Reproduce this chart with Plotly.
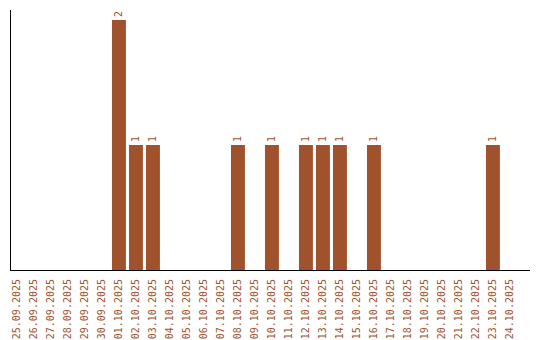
import plotly.graph_objects as go

dates = ["25.09.2025","26.09.2025","27.09.2025","28.09.2025","29.09.2025","30.09.2025",
         "01.10.2025","02.10.2025","03.10.2025","04.10.2025","05.10.2025","06.10.2025",
         "07.10.2025","08.10.2025","09.10.2025","10.10.2025","11.10.2025","12.10.2025",
         "13.10.2025","14.10.2025","15.10.2025","16.10.2025","17.10.2025","18.10.2025",
         "19.10.2025","20.10.2025","21.10.2025","22.10.2025","23.10.2025","24.10.2025"]
counts = [0,0,0,0,0,0,
          2,1,1,0,0,0,
          0,1,0,1,0,1,
          1,1,0,1,0,0,
          0,0,0,0,1,0]

color = "#A0522D"
labels = [str(v) if v > 0 else "" for v in counts]

fig = go.Figure(go.Bar(
    x=dates, y=counts, marker=dict(color=color, line=dict(width=0)),
    text=labels, textposition="outside", textangle=-90,
    textfont=dict(family="DejaVu Sans Mono", size=10, color=color),
    cliponaxis=False,
))
fig.update_layout(
    width=540, height=340,
    margin=dict(l=11, r=10, t=10, b=70, autoexpand=False),
    paper_bgcolor="white", plot_bgcolor="white",
    bargap=0.18, showlegend=False,
    font=dict(family="DejaVu Sans Mono", size=10, color=color),
    uniformtext=dict(minsize=10, mode="show"),
)
fig.update_xaxes(
    type="category", range=[-0.35, 30.18], automargin=False,
    showline=True, linecolor="black", linewidth=1,
    showgrid=False, ticks="", tickangle=-90,
    tickfont=dict(family="DejaVu Sans Mono", size=10, color=color),
    ticklabelstandoff=4,
)
fig.update_yaxes(
    range=[0, 2.08], showline=True, linecolor="black", linewidth=1, automargin=False,
    showgrid=False, zeroline=False, showticklabels=False, ticks="",
)
fig.write_html("out.html")
